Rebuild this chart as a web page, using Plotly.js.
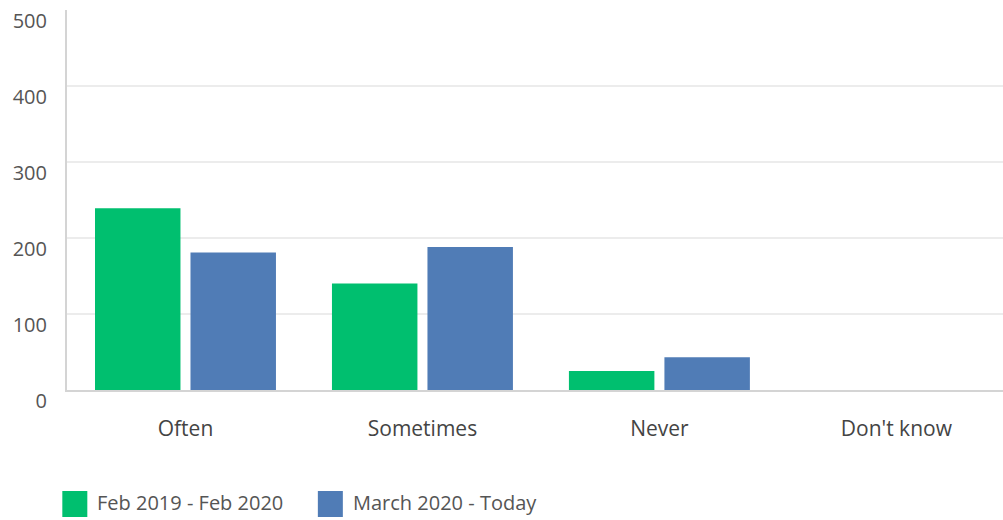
<!DOCTYPE html>
<html>
<head>
<meta charset="utf-8">
<script src="https://cdn.plot.ly/plotly-3.0.1.min.js"></script>
<style>html,body{margin:0;padding:0;background:#fff;}#chart{width:1003px;height:520px;}</style>
</head>
<body>
<div id="chart"></div>
<script>
var categories = ["Often", "Sometimes", "Never", "Don't know"];
var seriesNames = ["Feb 2019 - Feb 2020", "March 2020 - Today"];
var febToFeb = [239, 140, 25, 0];
var marchToToday = [181, 188, 43, 0];
var yTicks = [0, 100, 200, 300, 400, 500];
var colors = ["#00BF6F", "#507CB6"];

var font = "Open Sans, Noto Sans, sans-serif";

var traces = [
  {type: "bar", name: seriesNames[0], x: categories, y: febToFeb, marker: {color: colors[0]}, showlegend: false, hoverinfo: "skip"},
  {type: "bar", name: seriesNames[1], x: categories, y: marchToToday, marker: {color: colors[1]}, showlegend: false, hoverinfo: "skip"}
];

// custom legend (large squares + text)
var legendX = [-0.005, 0.268];
var sqW = 25 / 936, sqTop = (390 - 491) / 380, sqBot = (390 - 517) / 380;
var shapes = [], annotations = [];
for (var i = 0; i < seriesNames.length; i++) {
  shapes.push({type: "rect", xref: "paper", yref: "paper", x0: legendX[i], x1: legendX[i] + sqW, y0: sqBot, y1: sqTop, fillcolor: colors[i], line: {width: 0}});
  annotations.push({xref: "paper", yref: "paper", x: legendX[i] + sqW + 8 / 936, y: (390 - 502) / 380, xanchor: "left", yanchor: "middle", showarrow: false, text: seriesNames[i], font: {family: font, size: 20, color: "#555"}});
}

var layout = {
  width: 1003, height: 520,
  margin: {l: 67, r: 0, t: 10, b: 130, pad: 0},
  paper_bgcolor: "#fff", plot_bgcolor: "#fff",
  barmode: "group", bargap: 0.194, bargroupgap: 0.105,
  showlegend: false,
  font: {family: font, size: 18, color: "#555"},
  xaxis: {
    type: "category", range: [-0.5, 3.45], showgrid: false, zeroline: false,
    showline: true, linecolor: "#d4d4d4", linewidth: 2,
    ticks: "", ticklabelstandoff: 19, tickfont: {family: font, size: 21, color: "#444"}
  },
  yaxis: {
    range: [0, 500], tickvals: yTicks, showgrid: true, gridcolor: "#ececec", gridwidth: 1.5,
    zeroline: false, showline: true, linecolor: "#d4d4d4", linewidth: 2,
    ticks: "", ticklabelstandoff: 14, ticklabelshift: 11,
    tickfont: {family: font, size: 20, color: "#555"}
  },
  shapes: shapes,
  annotations: annotations
};

Plotly.newPlot("chart", traces, layout, {displayModeBar: false, staticPlot: true});
</script>
</body>
</html>
